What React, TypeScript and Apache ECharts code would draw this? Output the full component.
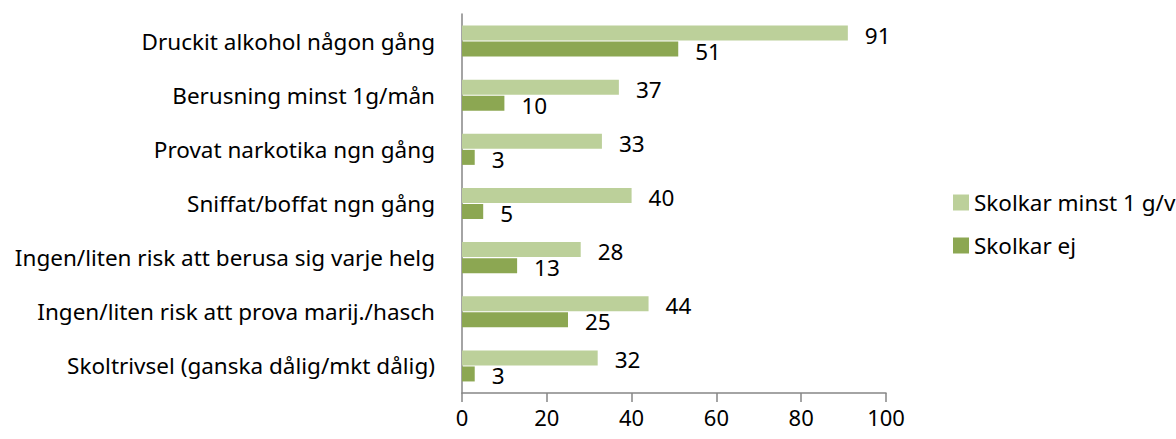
import React, { useEffect, useRef } from "react";
import * as echarts from "echarts";

const categories = [
  "Druckit alkohol någon gång",
  "Berusning minst 1g/mån",
  "Provat narkotika ngn gång",
  "Sniffat/boffat ngn gång",
  "Ingen/liten risk att berusa sig varje helg",
  "Ingen/liten risk att prova marij./hasch",
  "Skoltrivsel (ganska dålig/mkt dålig)",
];
const skolkarMinst = [91, 37, 33, 40, 28, 44, 32];
const skolkarEj = [51, 10, 3, 5, 13, 25, 3];
const seriesNames = ["Skolkar minst 1 g/v", "Skolkar ej"];
const xTicks = { min: 0, max: 100, interval: 20 };

const FONT = "'Noto Sans', 'Open Sans', sans-serif";
const FS = 22.5;

export default function App() {
  const ref = useRef<HTMLDivElement>(null);
  useEffect(() => {
    document.body.style.margin = "0";
    if (!ref.current) return;
    const chart = echarts.init(ref.current, null, { renderer: "svg" });
    const labelCfg = {
      show: true,
      position: "right",
      distance: 17,
      color: "#000",
      fontSize: FS,
      fontFamily: FONT,
      offset: [0, 2],
    };
    chart.setOption({
      animation: false,
      textStyle: { fontFamily: FONT },
      grid: { left: 462, right: 290, top: 14, bottom: 46, containLabel: false },
      legend: {
        orient: "vertical",
        left: 948,
        top: 186,
        itemWidth: 16,
        itemHeight: 16,
        itemGap: 20,
        icon: "rect",
        textStyle: { fontSize: FS, color: "#000", fontFamily: FONT, padding: [0, 0, 0, 0] },
        data: seriesNames,
      },
      xAxis: {
        type: "value",
        min: xTicks.min,
        max: xTicks.max,
        interval: xTicks.interval,
        axisLine: { show: true, lineStyle: { color: "#868686", width: 1.5 } },
        axisTick: { show: true, length: 9, lineStyle: { color: "#868686", width: 1.5 } },
        splitLine: { show: false },
        axisLabel: { fontSize: 22, color: "#000", margin: 13, fontFamily: FONT },
      },
      yAxis: {
        type: "category",
        inverse: true,
        data: categories,
        axisLine: { show: true, lineStyle: { color: "#868686", width: 1.5 } },
        axisTick: { show: false },
        axisLabel: { fontSize: FS, color: "#000", margin: 27, fontFamily: FONT },
      },
      series: [
        {
          name: seriesNames[0],
          type: "bar",
          data: skolkarMinst,
          barWidth: 15,
          barGap: "7%",
          itemStyle: { color: "#BCD09A" },
          label: labelCfg,
        },
        {
          name: seriesNames[1],
          type: "bar",
          data: skolkarEj,
          barWidth: 15,
          barGap: "7%",
          itemStyle: { color: "#8CA752" },
          label: labelCfg,
        },
      ],
    });
    return () => chart.dispose();
  }, []);
  return <div ref={ref} style={{ width: 1176, height: 439 }} />;
}
